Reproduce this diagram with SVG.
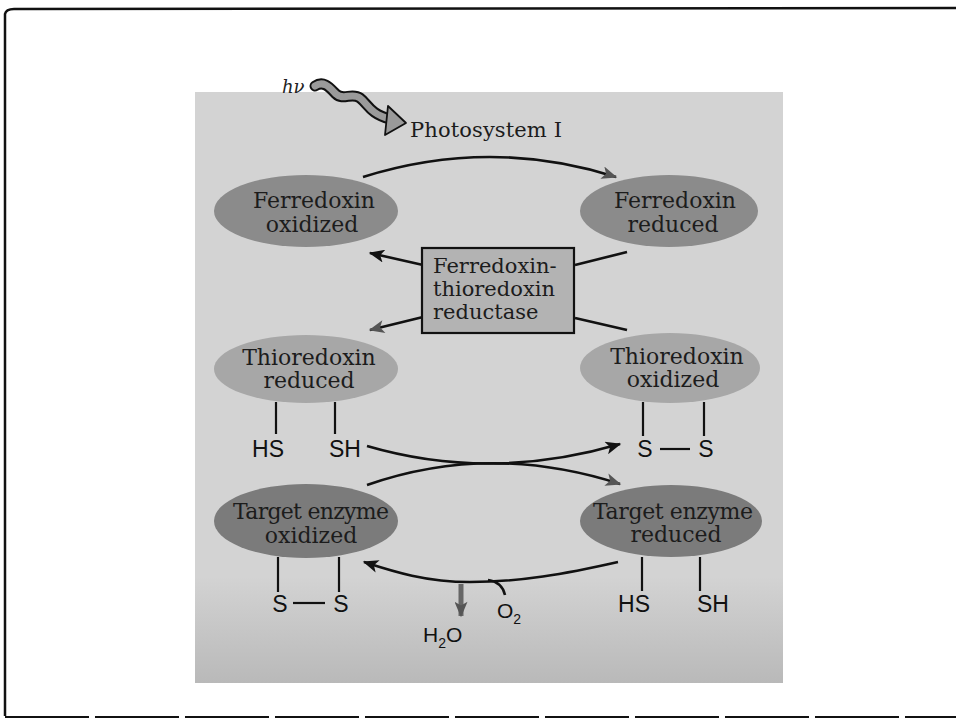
<svg xmlns="http://www.w3.org/2000/svg" width="956" height="720" viewBox="0 0 956 720">
  <style>
    .lbl { font-family: "DejaVu Serif", "Liberation Serif", serif; font-size: 22px; fill: #1c1c1c; text-anchor: middle; }
    .box { font-family: "DejaVu Serif", "Liberation Serif", serif; font-size: 21px; fill: #1c1c1c; }
    .chem { font-family: "Liberation Sans", Arial, sans-serif; font-size: 23px; fill: #111; text-anchor: middle; }
    .chem2 { font-family: "Liberation Sans", Arial, sans-serif; font-size: 21px; fill: #111; }
    .bond { stroke: #111; stroke-width: 2.2; fill: none; }
    .conn { stroke: #111; stroke-width: 2.6; fill: none; }
  </style>
  <defs>
    <linearGradient id="panelFill" x1="0" y1="0" x2="0" y2="1">
      <stop offset="0" stop-color="#d3d3d3"/>
      <stop offset="0.82" stop-color="#d3d3d3"/>
      <stop offset="1" stop-color="#b9b9b9"/>
    </linearGradient>
    <marker id="headBlack" viewBox="0 0 12 10" refX="11" refY="5" markerWidth="17" markerHeight="13" markerUnits="userSpaceOnUse" orient="auto">
      <path d="M0,0 L12,5 L0,10 L3,5 Z" fill="#111"/>
    </marker>
    <marker id="headGrey" viewBox="0 0 12 10" refX="11" refY="5" markerWidth="17" markerHeight="13" markerUnits="userSpaceOnUse" orient="auto">
      <path d="M0,0 L12,5 L0,10 L3,5 Z" fill="#555"/>
    </marker>
  </defs>

  <!-- page frame -->
  <rect width="956" height="720" fill="#ffffff"/>
  <path d="M5,716 L5,14 Q6,9 14,9 L956,8" fill="none" stroke="#111" stroke-width="2.5"/>
  <line x1="5" y1="717" x2="956" y2="717" stroke="#111" stroke-width="2" stroke-dasharray="84 6"/>

  <!-- figure panel -->
  <rect x="195" y="92" width="588" height="591" fill="url(#panelFill)"/>

  <!-- light input -->
  <g id="light">
    <text x="282" y="93" font-family="DejaVu Serif, serif" font-style="italic" font-size="18" fill="#222">hν</text>
    <path d="M315,86 C324,80 330,88 336,94 C343,101 352,92 360,98 C368,104 370,114 390,119" fill="none" stroke="#111" stroke-width="11" stroke-linecap="round"/>
    <path d="M315,86 C324,80 330,88 336,94 C343,101 352,92 360,98 C368,104 370,114 390,119" fill="none" stroke="#9a9a9a" stroke-width="7" stroke-linecap="round"/>
    <polygon points="388,106 406,123 385,135" fill="#9a9a9a" stroke="#111" stroke-width="1.8" stroke-linejoin="round"/>
    <text x="410" y="137" class="box" textLength="152">Photosystem I</text>
  </g>

  <!-- connectors -->
  <g id="connectors">
    <path class="conn" d="M363,177 Q490,137 616,177" marker-end="url(#headGrey)"/>
    <path class="conn" d="M423,265 L370,253" marker-end="url(#headBlack)"/>
    <path class="conn" d="M423,317 L370,330" marker-end="url(#headGrey)"/>
    <path class="conn" d="M627,252 L575,265"/>
    <path class="conn" d="M575,318 L627,330"/>
    <path class="conn" d="M367,446 Q490,482 620,444" marker-end="url(#headBlack)"/>
    <path class="conn" d="M367,485 Q490,442 620,484" marker-end="url(#headGrey)"/>
    <path class="conn" d="M618,562 C565,574 520,582 470,582 C425,582 392,571 364,562" marker-end="url(#headBlack)"/>
    <path class="conn" d="M488,580 Q502,582 505,595"/>
    <path d="M461,584 L461,616" stroke="#666" stroke-width="5" fill="none" marker-end="url(#headGrey)"/>
  </g>

  <!-- ferredoxin, oxidized -->
  <g id="ferredoxin-oxidized">
    <ellipse cx="306" cy="211" rx="92" ry="36" fill="#8b8b8b"/>
    <text class="lbl"><tspan x="314" y="208">Ferredoxin</tspan><tspan x="312" y="232">oxidized</tspan></text>
  </g>

  <!-- ferredoxin, reduced -->
  <g id="ferredoxin-reduced">
    <ellipse cx="669" cy="211" rx="89" ry="36" fill="#8b8b8b"/>
    <text class="lbl"><tspan x="675" y="208">Ferredoxin</tspan><tspan x="673" y="232">reduced</tspan></text>
  </g>

  <!-- ferredoxin-thioredoxin reductase -->
  <g id="reductase">
    <rect x="422" y="248" width="152" height="85" fill="#b3b3b3" stroke="#111" stroke-width="2.2"/>
    <text class="box"><tspan x="433" y="273">Ferredoxin-</tspan><tspan x="433" y="296">thioredoxin</tspan><tspan x="433" y="319">reductase</tspan></text>
  </g>

  <!-- thioredoxin, reduced -->
  <g id="thioredoxin-reduced">
    <ellipse cx="306" cy="369" rx="92" ry="34" fill="#a7a7a7"/>
    <text class="lbl"><tspan x="309" y="365">Thioredoxin</tspan><tspan x="309" y="388">reduced</tspan></text>
    <line class="bond" x1="276" y1="402" x2="276" y2="434"/>
    <line class="bond" x1="335" y1="402" x2="335" y2="434"/>
    <text class="chem" x="268" y="457">HS</text>
    <text class="chem" x="345" y="457">SH</text>
  </g>

  <!-- thioredoxin, oxidized -->
  <g id="thioredoxin-oxidized">
    <ellipse cx="670" cy="368" rx="90" ry="35" fill="#a7a7a7"/>
    <text class="lbl"><tspan x="677" y="364">Thioredoxin</tspan><tspan x="673" y="387">oxidized</tspan></text>
    <line class="bond" x1="643" y1="402" x2="643" y2="436"/>
    <line class="bond" x1="704" y1="402" x2="704" y2="436"/>
    <text class="chem" x="645" y="457">S</text>
    <line class="bond" x1="660" y1="449" x2="690" y2="449"/>
    <text class="chem" x="706" y="457">S</text>
  </g>

  <!-- target enzyme, oxidized -->
  <g id="target-oxidized">
    <ellipse cx="306" cy="521" rx="92" ry="37" fill="#7b7b7b"/>
    <text class="lbl"><tspan x="311" y="519" textLength="156">Target enzyme</tspan><tspan x="311" y="543">oxidized</tspan></text>
    <line class="bond" x1="278" y1="557" x2="278" y2="592"/>
    <line class="bond" x1="339" y1="557" x2="339" y2="592"/>
    <text class="chem" x="280" y="612">S</text>
    <line class="bond" x1="293" y1="603" x2="325" y2="603"/>
    <text class="chem" x="341" y="612">S</text>
  </g>

  <!-- target enzyme, reduced -->
  <g id="target-reduced">
    <ellipse cx="671" cy="521" rx="91" ry="36" fill="#7b7b7b"/>
    <text class="lbl"><tspan x="673" y="519" textLength="160">Target enzyme</tspan><tspan x="676" y="542">reduced</tspan></text>
    <line class="bond" x1="642" y1="557" x2="642" y2="591"/>
    <line class="bond" x1="700" y1="557" x2="700" y2="591"/>
    <text class="chem" x="634" y="612">HS</text>
    <text class="chem" x="713" y="612">SH</text>
  </g>

  <!-- water and oxygen -->
  <g id="water">
    <text class="chem2" x="423" y="642">H<tspan font-size="14" dy="6">2</tspan><tspan dy="-6">O</tspan></text>
  </g>
  <g id="oxygen">
    <text class="chem2" x="497" y="618">O<tspan font-size="14" dy="6">2</tspan></text>
  </g>
</svg>
